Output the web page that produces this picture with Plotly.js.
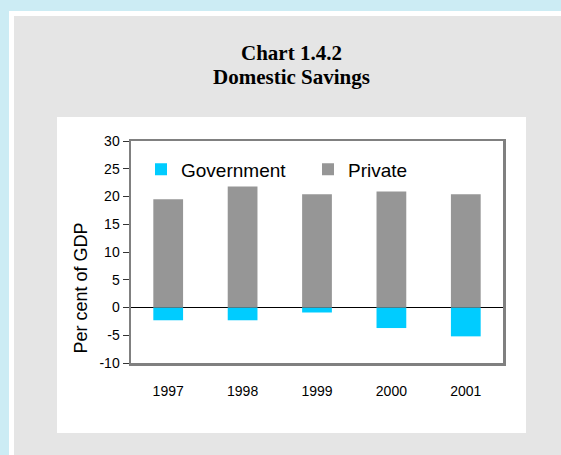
<!DOCTYPE html>
<html>
<head>
<meta charset="utf-8">
<script src="https://cdn.plot.ly/plotly-3.0.1.min.js"></script>
<style>html,body{margin:0;padding:0;background:#CCECF4;}</style>
</head>
<body>
<div id="chart" style="width:561px;height:455px;"></div>
<script>
var years = ['1997', '1998', '1999', '2000', '2001'];
var government = [-2.3, -2.3, -0.9, -3.7, -5.2];
var privateSav = [19.5, 21.8, 20.4, 20.9, 20.4];
var yTicks = [-10, -5, 0, 5, 10, 15, 20, 25, 30];
var yTitle = 'Per cent of GDP';

var W = 561, H = 455;
var L = 131, R = 503, T = 141, B = 363;
function px(x) { return (x - L) / (R - L); }
function py(y) { return (B - y) / (B - T); }

var traces = [
  { type: 'bar', name: 'Government', x: years, y: government,
    marker: { color: '#00CCFF' }, width: 0.4, hoverinfo: 'x+y' },
  { type: 'bar', name: 'Private', x: years, y: privateSav,
    marker: { color: '#969696' }, width: 0.4, hoverinfo: 'x+y' }
];

var tf = { family: 'Liberation Sans, Arial, sans-serif', size: 14, color: '#000' };

var boundaries = [];
for (var i = 0; i <= years.length; i++) boundaries.push(i - 0.5);

var layout = {
  width: W, height: H,
  margin: { l: L, r: W - R, t: T, b: H - B, pad: 0 },
  paper_bgcolor: '#CCECF4',
  plot_bgcolor: '#FFFFFF',
  barmode: 'relative',
  showlegend: true,
  legend: {
    orientation: 'h', x: px(141), xanchor: 'left', y: py(169.5), yanchor: 'middle',
    font: { family: 'Liberation Sans, Arial, sans-serif', size: 19, color: '#000' },
    bgcolor: 'rgba(0,0,0,0)', entrywidth: 122, entrywidthmode: 'pixels',
    traceorder: 'normal'
  },
  xaxis: {
    type: 'category', range: [-0.5, years.length - 0.5],
    showline: true, mirror: true, linecolor: '#808080', linewidth: 2.5,
    ticks: '', showgrid: false, zeroline: false,
    tickfont: tf, ticklabelstandoff: 14, fixedrange: true
  },
  xaxis2: {
    overlaying: 'x', anchor: 'free', position: py(307),
    range: [-0.5, years.length - 0.5], type: 'linear',
    tickvals: boundaries, ticks: 'outside', ticklen: 5, tickcolor: '#000', tickwidth: 1,
    showticklabels: false, showgrid: false, zeroline: false, showline: false
  },
  yaxis: {
    range: [-10, 30], tickvals: yTicks, ticktext: yTicks.map(String),
    showline: true, mirror: true, linecolor: '#808080', linewidth: 2.5,
    ticks: 'outside', ticklen: 6, tickcolor: '#333', tickwidth: 1,
    showgrid: false, zeroline: true, zerolinecolor: '#000', zerolinewidth: 1,
    tickfont: tf, fixedrange: true
  },
  shapes: [
    { type: 'rect', xref: 'paper', yref: 'paper', layer: 'below',
      x0: px(9), x1: px(600), y0: py(500), y1: py(11), fillcolor: '#FFFFFF', line: { width: 0 } },
    { type: 'rect', xref: 'paper', yref: 'paper', layer: 'below',
      x0: px(14), x1: px(600), y0: py(500), y1: py(16), fillcolor: '#E5E5E5', line: { width: 0 } },
    { type: 'rect', xref: 'paper', yref: 'paper', layer: 'below',
      x0: px(57), x1: px(526), y0: py(433), y1: py(117), fillcolor: '#FFFFFF', line: { width: 0 } }
  ],
  annotations: [
    { text: '<b>Chart 1.4.2</b>', xref: 'paper', yref: 'paper', x: px(291.5), y: py(53.5),
      xanchor: 'center', yanchor: 'middle', showarrow: false,
      font: { family: 'Liberation Serif, Times New Roman, serif', size: 21, color: '#000' } },
    { text: '<b>Domestic Savings</b>', xref: 'paper', yref: 'paper', x: px(291.5), y: py(76.5),
      xanchor: 'center', yanchor: 'middle', showarrow: false,
      font: { family: 'Liberation Serif, Times New Roman, serif', size: 21, color: '#000' } },
    { text: yTitle, xref: 'paper', yref: 'paper', x: px(80.5), y: py(288),
      xanchor: 'center', yanchor: 'middle', showarrow: false, textangle: -90,
      font: { family: 'Liberation Sans, Arial, sans-serif', size: 18, color: '#000' } }
  ]
};

Plotly.newPlot('chart', traces, layout, { displayModeBar: false, staticPlot: true });
</script>
</body>
</html>
